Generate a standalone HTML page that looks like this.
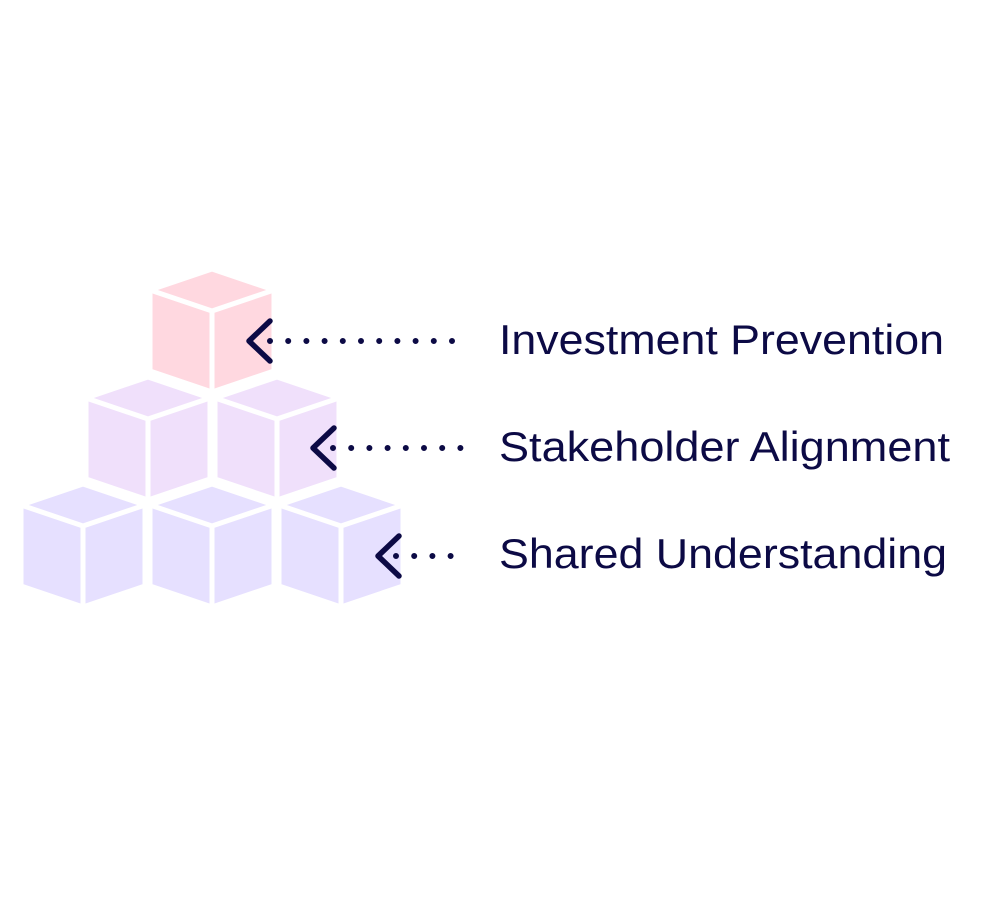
<!DOCTYPE html>
<html><head><meta charset="utf-8"><style>html,body{margin:0;padding:0;background:#fff;}svg{display:block}</style></head>
<body>
<svg width="985" height="924" viewBox="0 0 985 924" xmlns="http://www.w3.org/2000/svg">
<defs>
<g id="cube">
<polygon points="0,0 62,21 62,102 0,123 -62,102 -62,21" stroke="#fff" stroke-width="5" stroke-linejoin="miter"/>
<polyline points="-62,21 0,42 62,21" fill="none" stroke="#fff" stroke-width="5"/>
<line x1="0" y1="42" x2="0" y2="124" stroke="#fff" stroke-width="5"/>
</g>
</defs>
<g fill="#E6E0FF">
<use href="#cube" x="83" y="484"/>
<use href="#cube" x="212" y="484"/>
<use href="#cube" x="341" y="484"/>
</g>
<g fill="#F0E0FB">
<use href="#cube" x="148" y="377"/>
<use href="#cube" x="277" y="377"/>
</g>
<g fill="#FFD8E0">
<use href="#cube" x="212" y="269"/>
</g>
<g stroke="#0c0a45" stroke-width="5.5" stroke-linecap="round" stroke-linejoin="round" fill="none">
<polyline points="270,321 249,341 270,361"/>
<polyline points="334,428 313,448 334,468"/>
<polyline points="399,536 378,556 399,576"/>
</g>
<g stroke="#0c0a45" stroke-width="6" stroke-linecap="round" stroke-dasharray="0 18.2">
<line x1="270" y1="341" x2="453" y2="341"/>
<line x1="333" y1="448" x2="461" y2="448"/>
<line x1="396" y1="556" x2="456" y2="556"/>
</g>
<g fill="#0c0a45" font-family="Liberation Sans, Arial, sans-serif" font-size="42">
<text x="499" y="354" textLength="445" lengthAdjust="spacingAndGlyphs">Investment Prevention</text>
<text x="499" y="461" textLength="451" lengthAdjust="spacingAndGlyphs">Stakeholder Alignment</text>
<text x="499" y="568" textLength="448" lengthAdjust="spacingAndGlyphs">Shared Understanding</text>
</g>
</svg>
</body></html>
